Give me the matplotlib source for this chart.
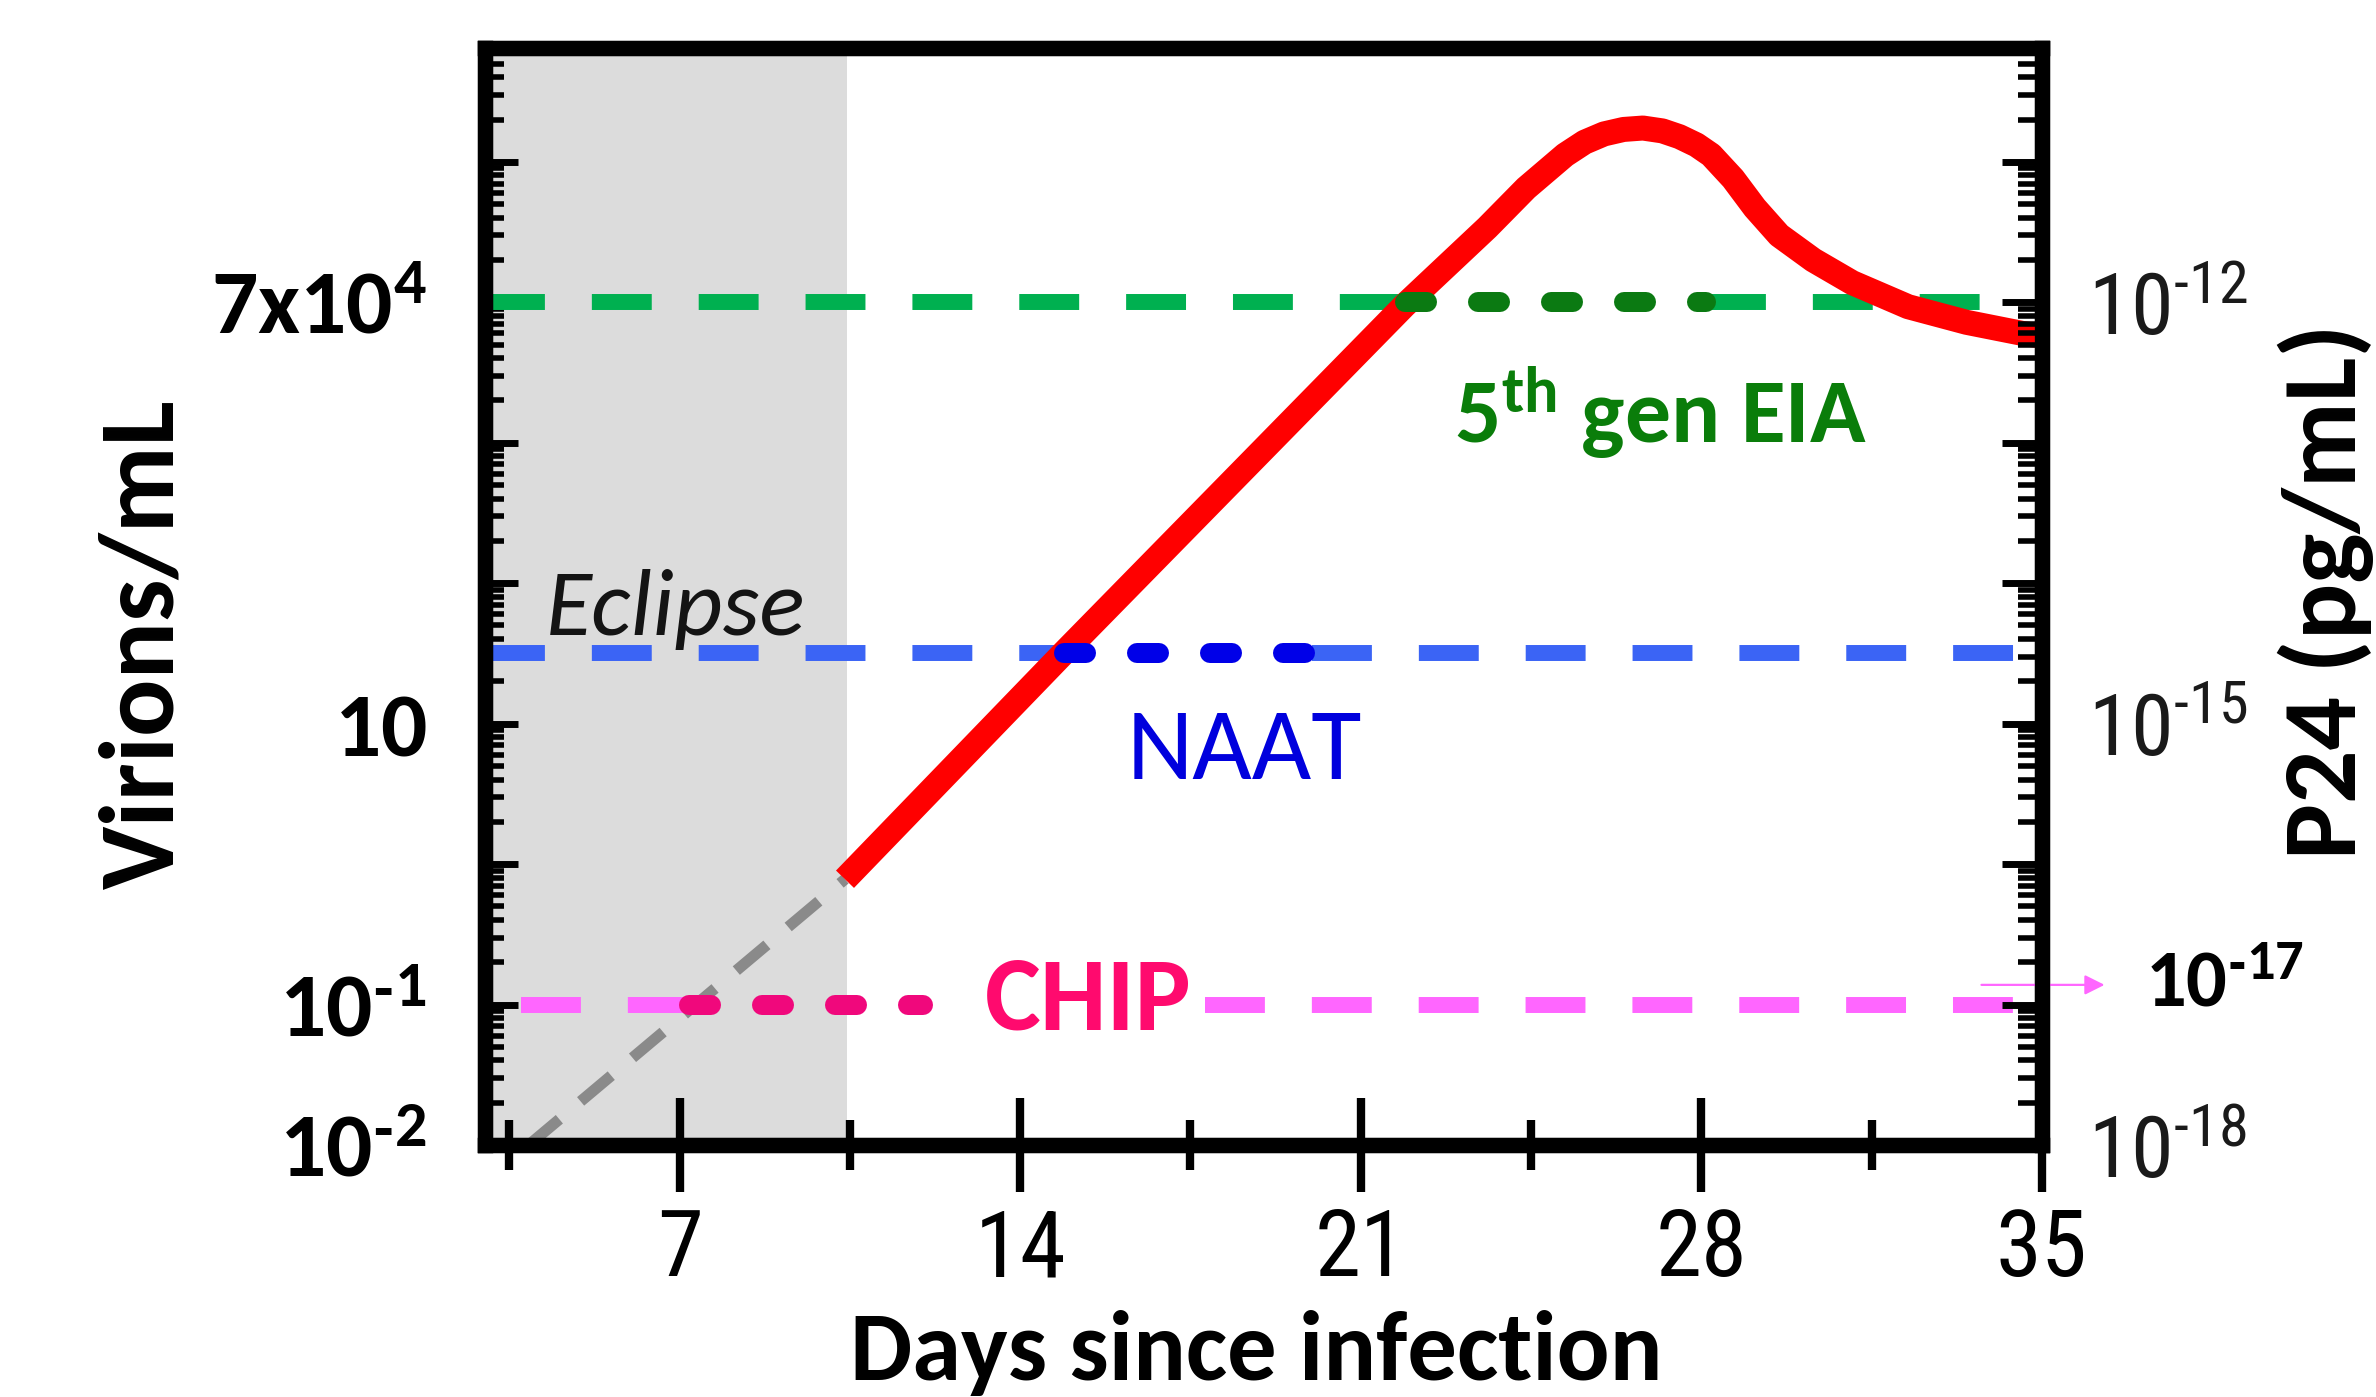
import numpy as np
import matplotlib
matplotlib.use("Agg")
import matplotlib.pyplot as plt
from matplotlib import font_manager
from matplotlib.ticker import LogLocator, NullFormatter, FixedLocator
from matplotlib.transforms import blended_transform_factory

# ---- data ----
days = [10.4, 14.9, 21.9, 23.6, 24.4, 25.2, 25.6, 26.0, 26.4, 26.8, 27.2, 27.55,
        27.9, 28.2, 28.65, 29.1, 29.6, 30.3, 31.1, 32.25, 33.45, 34.6, 35.0]
virions = [0.78, 32, 9.5e3, 3.4e4, 6.5e4, 1.12e5, 1.38e5, 1.58e5, 1.70e5, 1.74e5,
           1.66e5, 1.51e5, 1.32e5, 1.12e5, 7.6e4, 4.7e4, 3.0e4, 2.0e4, 1.38e4,
           9.3e3, 7.2e3, 6.0e3, 5.75e3]
eclipse_days = [3.9, 10.4]
eclipse_virions = [1e-2, 0.78]
eclipse_end = 10.45

assays = ["CHIP", "NAAT", "5th gen EIA"]
levels = [0.1, 32, 1e4]
windows = [(7.2, 12.0), (14.9, 20.0), (21.9, 28.1)]
dash_spans = [[(3.75, 7.2), (17.8, 34.4)],
              [(3.0, 14.9), (20.0, 34.6)],
              [(3.0, 21.9), (28.1, 34.0)]]

HY = "\u2010"  # short hyphen used in the exponents
left_ticks = [1e-2, 1e-1, 1e1, 1e4]
left_labels = [r"$\mathbf{10^{%s2}}$" % HY, r"$\mathbf{10^{%s1}}$" % HY,
               r"$\mathbf{10}$", r"$\mathbf{7x10^{4}}$"]
right_ticks = [1e-18, 1e-15, 1e-12]
right_labels = [r"$\mathrm{10^{%s18}}$" % HY, r"$\mathrm{10^{%s15}}$" % HY,
                r"$\mathrm{10^{%s12}}$" % HY]
p24_per_virion = 1e-16
x_major = [7, 14, 21, 28, 35]
x_minor = [3.5, 10.5, 17.5, 24.5, 31.5]

# ---- fonts ----
names = {f.name for f in font_manager.fontManager.ttflist}
def pick(options, default):
    return next((n for n in options if n in names), default)

calib = pick(["Carlito", "Lato"], "DejaVu Sans")
narrow = pick(["Liberation Sans Narrow", "Roboto Condensed", "Archivo Narrow",
               "PT Sans Narrow"], "Liberation Sans")
k = 1.0 if calib == "Carlito" else 0.89

plt.rcParams["font.family"] = [calib, "DejaVu Sans"]
plt.rcParams["mathtext.fontset"] = "custom"
plt.rcParams["mathtext.rm"] = narrow
plt.rcParams["mathtext.bf"] = calib + ":bold"
plt.rcParams["mathtext.it"] = calib + ":italic"

dash_colors = ["#ff66ff", "#3b64f5", "#00b050"]
dot_colors = ["#f0087c", "#0000e8", "#0b7a12"]
text_colors = ["#ff0a6e", "#0000dd", "#0a7d0a"]

fig = plt.figure(figsize=(23.76, 13.97), dpi=100)
ax = fig.add_axes([0.2041, 0.1804, 0.6553, 0.7852])
ax.set_yscale("log")
ax.set_xlim(3, 35)
ax.set_ylim(1e-2, 10 ** 5.81)

ax.axvspan(3, eclipse_end, color="#dcdcdc", zorder=0, lw=0)
ax.plot(eclipse_days, eclipse_virions, color="#8a8a8a", lw=8,
        dashes=(3.6, 2.5), zorder=1)

for i in range(len(assays)):
    for a, b in dash_spans[i]:
        ax.plot([a, b], [levels[i], levels[i]], color=dash_colors[i], lw=11.5,
                dashes=(3.75, 2.94), dash_capstyle="butt", zorder=2)

ax.plot(days, virions, color="#ff0000", lw=18, solid_capstyle="butt",
        solid_joinstyle="round", zorder=3)

for i in range(len(assays)):
    a, b = windows[i]
    ax.plot([a, b], [levels[i], levels[i]], color=dot_colors[i], lw=14.4,
            dashes=(1.1, 2.55), dash_capstyle="round", zorder=4)

ax.text(13.28, 10 ** -1.18, "CHIP", color=text_colors[0], fontsize=76 * k,
        fontweight="bold", va="baseline", zorder=5)
ax.text(16.19, 10 ** 0.605, "NAAT", color=text_colors[1], fontsize=74 * k,
        va="baseline", zorder=5)
ax.text(22.91, 10 ** 3.0, r"5$^{\mathbf{th}}$ gen EIA", color=text_colors[2],
        fontsize=66 * k, fontweight="bold", va="baseline", zorder=5)
ax.text(4.25, 10 ** 1.63, "Eclipse", fontstyle="italic", fontsize=68 * k,
        color="#141414", va="baseline", zorder=5)

for s in ax.spines.values():
    s.set_linewidth(11)
ax.xaxis.set_major_locator(FixedLocator(x_major))
ax.xaxis.set_minor_locator(FixedLocator(x_minor))
ax.tick_params(axis="x", which="major", direction="inout", length=68, width=6,
               pad=10, labelsize=67, labelfontfamily=narrow)
ax.tick_params(axis="x", which="minor", direction="inout", length=36, width=6)

ax.set_yticks([10.0 ** e for e in range(-2, 6)])
ax.set_yticklabels([left_labels[left_ticks.index(10.0 ** e)]
                    if 10.0 ** e in left_ticks else "" for e in range(-2, 6)])
ax.yaxis.set_minor_locator(LogLocator(base=10, subs=np.arange(2, 10), numticks=30))
ax.yaxis.set_minor_formatter(NullFormatter())
ax.tick_params(axis="y", which="major", direction="in", length=24, width=5,
               pad=42, labelsize=66 * k, right=False)
ax.tick_params(axis="y", which="minor", direction="in", length=14, width=4,
               right=False)

ax2 = ax.twinx()
lo, hi = ax.get_ylim()
ax2.set_yscale("log")
ax2.set_ylim(lo * p24_per_virion, hi * p24_per_virion)
for s in ax2.spines.values():
    s.set_linewidth(11)
ax2.set_yticks([10.0 ** e for e in range(-18, -10)])
ax2.set_yticklabels([right_labels[right_ticks.index(10.0 ** e)]
                     if 10.0 ** e in right_ticks else "" for e in range(-18, -10)])
ax2.yaxis.set_minor_locator(LogLocator(base=10, subs=np.arange(2, 10), numticks=30))
ax2.yaxis.set_minor_formatter(NullFormatter())
ax2.tick_params(axis="y", which="major", direction="in", length=29, width=5,
                pad=33, labelsize=62, labelcolor="#1a1a1a")
ax2.tick_params(axis="y", which="minor", direction="in", length=17, width=4)

trans = blended_transform_factory(ax.transAxes, ax.transData)
ax.annotate("", xy=(1.042, 10 ** -0.86), xycoords=trans,
            xytext=(33.7, 10 ** -0.86), textcoords="data",
            arrowprops=dict(arrowstyle="-|>", color="#ff66ff", lw=1.6,
                            mutation_scale=30), annotation_clip=False)
ax.text(1.0665, 10 ** -0.86, r"$\mathbf{10^{%s17}}$" % HY, transform=trans,
        ha="left", va="center", fontsize=58 * k, clip_on=False)

fig.text(0.5286, 0.001, "Days since infection", ha="center", va="bottom",
         fontsize=71 * k, fontweight="bold")
fig.text(0.0732, 0.539, "Virions/mL", rotation=90, rotation_mode="anchor",
         ha="center", va="baseline", fontsize=77 * k, fontweight="bold")
fig.text(0.9915, 0.577, "P24 (pg/mL)", rotation=90, rotation_mode="anchor",
         ha="center", va="baseline", fontsize=76 * k, fontweight="bold")

fig.savefig("out.png", dpi=100)
